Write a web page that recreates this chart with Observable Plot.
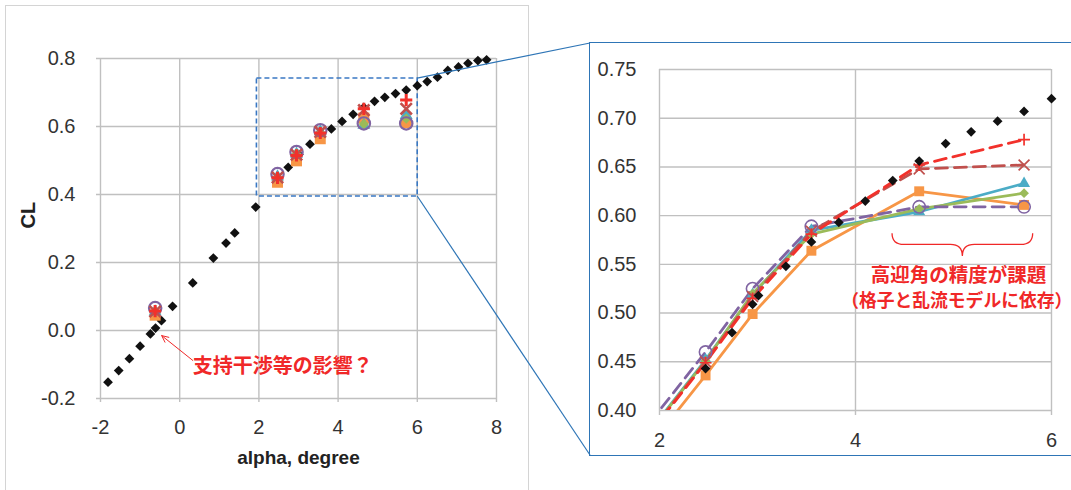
<!DOCTYPE html>
<html><head><meta charset="utf-8">
<script src="https://cdn.jsdelivr.net/npm/d3@7"></script>
<script src="https://cdn.jsdelivr.net/npm/@observablehq/plot@0.6"></script>
<style>
html,body{margin:0;padding:0;background:#fff;overflow:hidden;width:1071px;height:490px}
#wrap{position:relative;width:1071px;height:490px;overflow:hidden;background:#fff}
#leftFrame{position:absolute;left:5px;top:5px;width:524px;height:520px;border:1px solid #d4d4d4;box-sizing:border-box}
#rightFrame{position:absolute;left:589px;top:42px;width:540px;height:414px;border:1.5px solid #2e75b6;border-right:none;box-sizing:border-box}
.abs{position:absolute}
</style></head><body>
<div id="wrap">
  <div id="leftFrame"></div>
  <div id="rightFrame"></div>
  <div id="left" class="abs" style="left:0px;top:0px"></div>
  <div id="right" class="abs" style="left:590px;top:43px"></div>
  <svg id="overlay" class="abs" width="1071" height="490" style="left:0;top:0;pointer-events:none"></svg>
</div>
<script>
// ---------- tick labels ----------
const leftXTicks = [-2, 0, 2, 4, 6, 8];
const leftYTicks = [-0.2, 0.0, 0.2, 0.4, 0.6, 0.8];
const rightXTicks = [2, 4, 6];
const rightYTicks = [0.40, 0.45, 0.50, 0.55, 0.60, 0.65, 0.70, 0.75];

// ---------- experiment (black diamonds) ----------
const expAlpha = [-1.81, -1.54, -1.27, -1.00, -0.74, -0.61, -0.46, -0.18, 0.33, 0.85, 1.17, 1.39, 1.92,
  2.47, 2.74, 2.95, 3.01, 3.29, 3.55, 3.83, 4.10, 4.38, 4.65, 4.92, 5.18, 5.45, 5.72, 6.00,
  6.25, 6.51, 6.77, 7.04, 7.28, 7.53, 7.75];
const expCL = [-0.152, -0.118, -0.083, -0.046, -0.010, 0.007, 0.029, 0.071, 0.140, 0.213, 0.257, 0.287, 0.363,
  0.443, 0.480, 0.509, 0.518, 0.548, 0.573, 0.593, 0.615, 0.636, 0.656, 0.674, 0.686, 0.697, 0.707, 0.720,
  0.732, 0.745, 0.765, 0.775, 0.786, 0.794, 0.796];

// ---------- CFD series ----------
const cfdAlpha = [-0.62, 2.47, 2.95, 3.55, 4.65, 5.72];
const clSquare   = [0.045, 0.436, 0.499, 0.564, 0.625, 0.611];
const clTriangle = [0.055, 0.452, 0.519, 0.585, 0.604, 0.633];
const clDiamond  = [0.056, 0.451, 0.520, 0.581, 0.607, 0.623];
const clCircle   = [0.066, 0.460, 0.525, 0.589, 0.609, 0.609];
const clTimes    = [0.056, 0.450, 0.517, 0.584, 0.648, 0.652];
const clPlus     = [0.057, 0.449, 0.515, 0.581, 0.652, 0.678];

// ---------- annotations ----------
const zoomAlpha = [1.95, 6.01];
const zoomCL = [0.394, 0.741];
const arrowAlpha = [0.33, -0.455];
const arrowCL = [-0.088, -0.015];
const noteLeft = "支持干渉等の影響？";
const noteLeftAt = [0.33, -0.106];
const noteRight = ["高迎角の精度が課題", "（格子と乱流モデルに依存）"];
const noteRightAlpha = [5.05, 5.033];
const noteRightCL = [0.538, 0.5125];
const braceAlpha = [4.378, 5.813];
const braceCL = [0.5815, 0.570, 0.558];

// ---------- styles ----------
const RED = "#f02828";
const BLUE = "#2e75b6";
const GRID = "#c0c0c0";
const seriesDefs = [
  {cl: clSquare,   color: "#f79646", symbol: "square",   filled: true,  dash: null},
  {cl: clTriangle, color: "#4bacc6", symbol: "triangle", filled: true,  dash: null},
  {cl: clDiamond,  color: "#9bbb59", symbol: "diamond2", filled: true,  dash: null},
  {cl: clCircle,   color: "#8064a2", symbol: "circle",   filled: false, dash: "12,7"},
  {cl: clTimes,    color: "#c0504d", symbol: "times",    filled: false, dash: "12,7"},
  {cl: clPlus,     color: "#f2312b", symbol: "plus",     filled: false, dash: "12,7"}
];
const leftR  = {square: 6.2, triangle: 4.8, diamond2: 4.6, circle: 6.2, times: 5.2, plus: 4};
const leftSW = {circle: 2.2, times: 2.6, plus: 3};
const rightR = {square: 5.6, triangle: 4.5, diamond2: 4.4, circle: 6.2, times: 5, plus: 3.9};
const rightSW = {circle: 1.6, times: 1.7, plus: 1.7};

const expRows = expAlpha.map((a, i) => ({alpha: a, cl: expCL[i]}));
const seriesRows = seriesDefs.map(s => cfdAlpha.map((a, i) => ({alpha: a, cl: s.cl[i]})));

const fmt = (d, n) => d.toFixed(n);
const baseStyle = {fontFamily: "'Liberation Sans', Arial, sans-serif", fontSize: "20px", color: "#333", background: "transparent", overflow: "visible"};
const cjk = "'Noto Sans CJK JP', 'Noto Sans CJK SC', sans-serif";

function dots(rows, s, R, SW) {
  return Plot.dot(rows, {
    x: "alpha", y: "cl", symbol: s.symbol, r: R[s.symbol],
    fill: s.filled ? s.color : "none",
    stroke: s.filled ? "none" : s.color,
    strokeWidth: s.filled ? 0 : SW[s.symbol]
  });
}

// ---------- left chart ----------
const L = Plot.plot({
  width: 530, height: 490,
  marginLeft: 100, marginRight: 34, marginTop: 58, marginBottom: 92,
  style: baseStyle,
  x: {domain: [-2, 8], ticks: leftXTicks, tickSize: 0, tickPadding: 21, tickFormat: d => fmt(d, 0), label: null},
  y: {domain: [-0.2, 0.8], ticks: leftYTicks, tickSize: 0, tickPadding: 25, tickFormat: d => fmt(d, 1), label: null},
  marks: [
    Plot.ruleX(leftXTicks, {stroke: GRID, strokeWidth: 1.4, insetBottom: -4}),
    Plot.ruleY(leftYTicks, {stroke: GRID, strokeWidth: 1.4, insetLeft: -4}),
    Plot.rect([0], {x1: () => zoomAlpha[0], x2: () => zoomAlpha[1], y1: () => zoomCL[0], y2: () => zoomCL[1],
      fill: "none", stroke: "#3a78c3", strokeWidth: 1.6, strokeDasharray: "5,3"}),
    Plot.dot(expRows, {x: "alpha", y: "cl", symbol: "diamond2", r: 4.4, fill: "#111", stroke: "none"}),
    ...seriesDefs.map((s, k) => dots(seriesRows[k], s, leftR, leftSW)),
    Plot.arrow([0], {x1: () => arrowAlpha[0], y1: () => arrowCL[0], x2: () => arrowAlpha[1], y2: () => arrowCL[1],
      stroke: RED, strokeWidth: 1, headLength: 11, headAngle: 50, bend: 0}),
    Plot.text([noteLeft], {x: () => noteLeftAt[0], y: () => noteLeftAt[1], text: d => d, textAnchor: "start",
      fill: RED, fontSize: 20, fontWeight: "bold", fontFamily: cjk}),
    Plot.text(["CL"], {frameAnchor: "left", dx: -72, rotate: -90, text: d => d, fontWeight: "bold", fontSize: 20, fill: "#222"}),
    Plot.text(["alpha, degree"], {frameAnchor: "bottom", dy: 65, text: d => d, fontWeight: "bold", fontSize: 19, fill: "#222"})
  ]
});
document.getElementById("left").appendChild(L);

// ---------- right chart ----------
const inView = d => d.alpha >= 1.99 && d.alpha <= 6.01 && d.cl >= 0.395 && d.cl <= 0.755;
const R = Plot.plot({
  width: 481, height: 412,
  marginLeft: 69, marginRight: 20, marginTop: 26, marginBottom: 45,
  style: baseStyle,
  x: {domain: [2, 6], ticks: rightXTicks, tickSize: 0, tickPadding: 22, tickFormat: d => fmt(d, 0), label: null},
  y: {domain: [0.40, 0.75], ticks: rightYTicks, tickSize: 0, tickPadding: 23, tickFormat: d => fmt(d, 2), label: null},
  marks: [
    Plot.ruleX(rightXTicks, {stroke: GRID, strokeWidth: 1.4, insetBottom: -5}),
    Plot.ruleY(rightYTicks, {stroke: GRID, strokeWidth: 1.4}),
    ...seriesDefs.map((s, k) => Plot.line(seriesRows[k], {x: "alpha", y: "cl", stroke: s.color, strokeWidth: 2.8,
      strokeDasharray: s.dash || undefined, clip: true})),
    ...seriesDefs.map((s, k) => dots(seriesRows[k].filter(inView), s, rightR, rightSW)),
    Plot.dot(expRows.filter(inView), {x: "alpha", y: "cl", symbol: "diamond2", r: 4.4, fill: "#111", stroke: "none"}),
    Plot.text([noteRight[0]], {x: () => noteRightAlpha[0], y: () => noteRightCL[0], text: d => d,
      fill: RED, fontSize: 19.5, fontWeight: "bold", fontFamily: cjk}),
    Plot.text([noteRight[1]], {x: () => noteRightAlpha[1], y: () => noteRightCL[1], text: d => d,
      fill: RED, fontSize: 17.8, fontWeight: "bold", fontFamily: cjk})
  ]
});
document.getElementById("right").appendChild(R);

// ---------- overlay: connectors and brace ----------
const ov = d3.select("#overlay");
const lx = L.scale("x"), ly = L.scale("y"), rx = R.scale("x"), ry = R.scale("y");
const rEl = document.getElementById("right");
const rLeft = rEl.offsetLeft, rTop = rEl.offsetTop;
const cx = lx.apply(zoomAlpha[1]);
ov.append("line").attr("x1", cx).attr("y1", ly.apply(zoomCL[1])).attr("x2", rLeft).attr("y2", rTop)
  .attr("stroke", BLUE).attr("stroke-width", 1.2);
ov.append("line").attr("x1", cx).attr("y1", ly.apply(zoomCL[0])).attr("x2", rLeft).attr("y2", rTop + 412)
  .attr("stroke", BLUE).attr("stroke-width", 1.2);

const xa = rLeft + rx.apply(braceAlpha[0]), xb = rLeft + rx.apply(braceAlpha[1]);
const xm = (xa + xb) / 2;
const yt = rTop + ry.apply(braceCL[0]), ym = rTop + ry.apply(braceCL[1]), yp = rTop + ry.apply(braceCL[2]);
const rr = 12;
const p = d3.path();
p.moveTo(xa, yt);
p.quadraticCurveTo(xa, ym, xa + rr, ym);
p.lineTo(xm - rr, ym);
p.quadraticCurveTo(xm, ym, xm, yp);
p.quadraticCurveTo(xm, ym, xm + rr, ym);
p.lineTo(xb - rr, ym);
p.quadraticCurveTo(xb, ym, xb, yt);
ov.append("path").attr("d", p.toString()).attr("fill", "none").attr("stroke", RED).attr("stroke-width", 1.3);
</script>
</body></html>
